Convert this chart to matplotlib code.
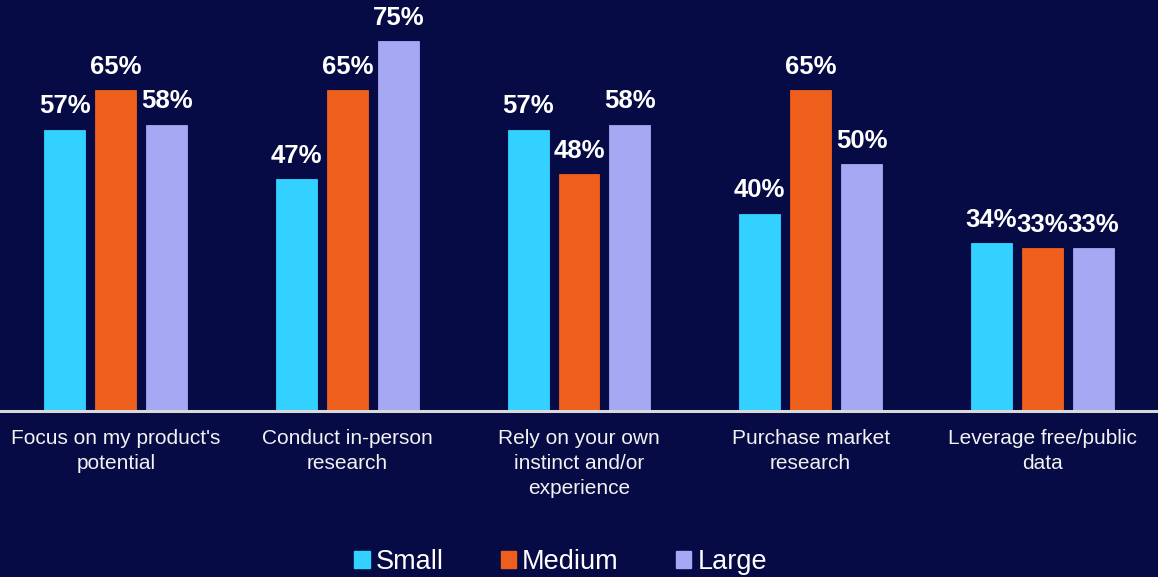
import numpy as np
import matplotlib
matplotlib.use("Agg")
import matplotlib.pyplot as plt
from matplotlib.patches import Patch

categories = ["Focus on my product's\npotential", "Conduct in-person\nresearch",
              "Rely on your own\ninstinct and/or\nexperience", "Purchase market\nresearch",
              "Leverage free/public\ndata"]
series = ["Small", "Medium", "Large"]
small = [57, 47, 57, 40, 34]
medium = [65, 65, 48, 65, 33]
large = [58, 75, 58, 50, 33]
colors = ["#33D1FF", "#EE5F1B", "#A5A8F2"]

bg = "#060A45"
plt.rcParams['font.family'] = ['Liberation Sans', 'DejaVu Sans']

fig = plt.figure(figsize=(11.58, 5.77), dpi=100, facecolor=bg)
ax = fig.add_axes([0, 0.2877, 1, 0.7123], facecolor=bg)

x = np.arange(len(categories))
w = 0.177
off = 0.22
for i, (vals, c) in enumerate(zip([small, medium, large], colors)):
    pos = x + (i - 1) * off
    ax.bar(pos, vals, width=w, color=c, edgecolor=c, linewidth=0.6)
    for p, v in zip(pos, vals):
        ax.text(p, v + 2.3, f"{v}%", ha="center", va="bottom", color="white",
                fontsize=18.5, fontweight="bold")

ax.set_xlim(-0.5, len(categories) - 0.5)
ax.set_ylim(0, 83.3)
ax.axhline(0, color="#D9D9D9", lw=2.2, clip_on=False)
for s in ax.spines.values():
    s.set_visible(False)
ax.set_yticks([])
ax.set_xticks(x)
ax.set_xticklabels(categories, color="#F2F2F2", fontsize=15, linespacing=1.4)
ax.tick_params(axis="x", length=0, pad=13)

handles = [Patch(facecolor=c, edgecolor=c) for c in colors]
fig.legend(handles, series, loc="center", bbox_to_anchor=(0.484, 0.026), ncol=3,
           frameon=False, fontsize=19.5, labelcolor="white", handlelength=0.58,
           handleheight=0.58, handletextpad=0.22, columnspacing=2.1)

fig.savefig("out.png", dpi=100, facecolor=bg)
